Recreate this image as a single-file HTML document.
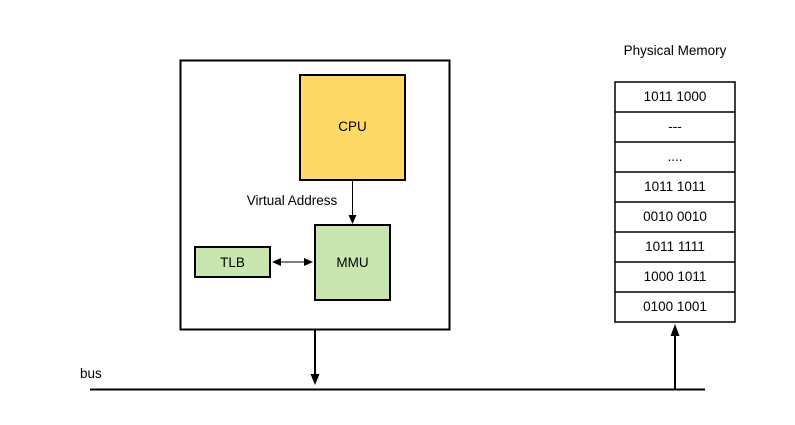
<!DOCTYPE html><html><head><style>body{margin:0;background:#fff}</style></head><body>
<svg width="795" height="420" xmlns="http://www.w3.org/2000/svg" font-family="Liberation Sans, sans-serif" font-size="13.5">
<rect width="795" height="420" fill="#fff"/>
<rect x="180.5" y="60.5" width="269" height="269" fill="#fff" stroke="#000" stroke-width="2"/>
<rect x="300" y="75" width="105" height="105" fill="#ffd966" stroke="#000" stroke-width="2"/>
<text x="352.5" y="131" text-anchor="middle">CPU</text>
<rect x="315" y="225" width="75" height="75" fill="#c9e6b0" stroke="#000" stroke-width="2"/>
<text x="352.5" y="267" text-anchor="middle">MMU</text>
<rect x="195" y="247" width="75" height="30" fill="#c9e6b0" stroke="#000" stroke-width="2"/>
<text x="232.5" y="267" text-anchor="middle">TLB</text>
<text x="292" y="205" text-anchor="middle">Virtual Address</text>
<line x1="352.5" y1="180" x2="352.5" y2="216" stroke="#000"/>
<polygon points="348.5,215 356.5,215 352.5,224" fill="#000"/>
<line x1="278" y1="262" x2="306" y2="262" stroke="#000"/>
<polygon points="272,262 281,258 281,266" fill="#000"/>
<polygon points="313,262 304,258 304,266" fill="#000"/>
<line x1="315" y1="330" x2="315" y2="376" stroke="#000" stroke-width="2"/>
<polygon points="310.5,374 319.5,374 315,385" fill="#000"/>
<line x1="90" y1="389.5" x2="705" y2="389.5" stroke="#000" stroke-width="2"/>
<text x="80" y="378">bus</text>
<line x1="675" y1="389" x2="675" y2="334" stroke="#000" stroke-width="2"/>
<polygon points="670.5,336 679.5,336 675,324" fill="#000"/>
<text x="675" y="55" text-anchor="middle">Physical Memory</text>
<g stroke="#000" stroke-width="1.5" fill="#fff">
<rect x="615" y="82" width="120" height="240"/>
<line x1="615" y1="112" x2="735" y2="112"/><line x1="615" y1="142" x2="735" y2="142"/>
<line x1="615" y1="172" x2="735" y2="172"/><line x1="615" y1="202" x2="735" y2="202"/>
<line x1="615" y1="232" x2="735" y2="232"/><line x1="615" y1="262" x2="735" y2="262"/>
<line x1="615" y1="292" x2="735" y2="292"/>
</g>
<g text-anchor="middle">
<text x="675" y="101">1011 1000</text><text x="675" y="131">---</text><text x="675" y="161">....</text>
<text x="675" y="191">1011 1011</text><text x="675" y="221">0010 0010</text><text x="675" y="251">1011 1111</text>
<text x="675" y="281">1000 1011</text><text x="675" y="311">0100 1001</text>
</g>
</svg>
</body></html>
